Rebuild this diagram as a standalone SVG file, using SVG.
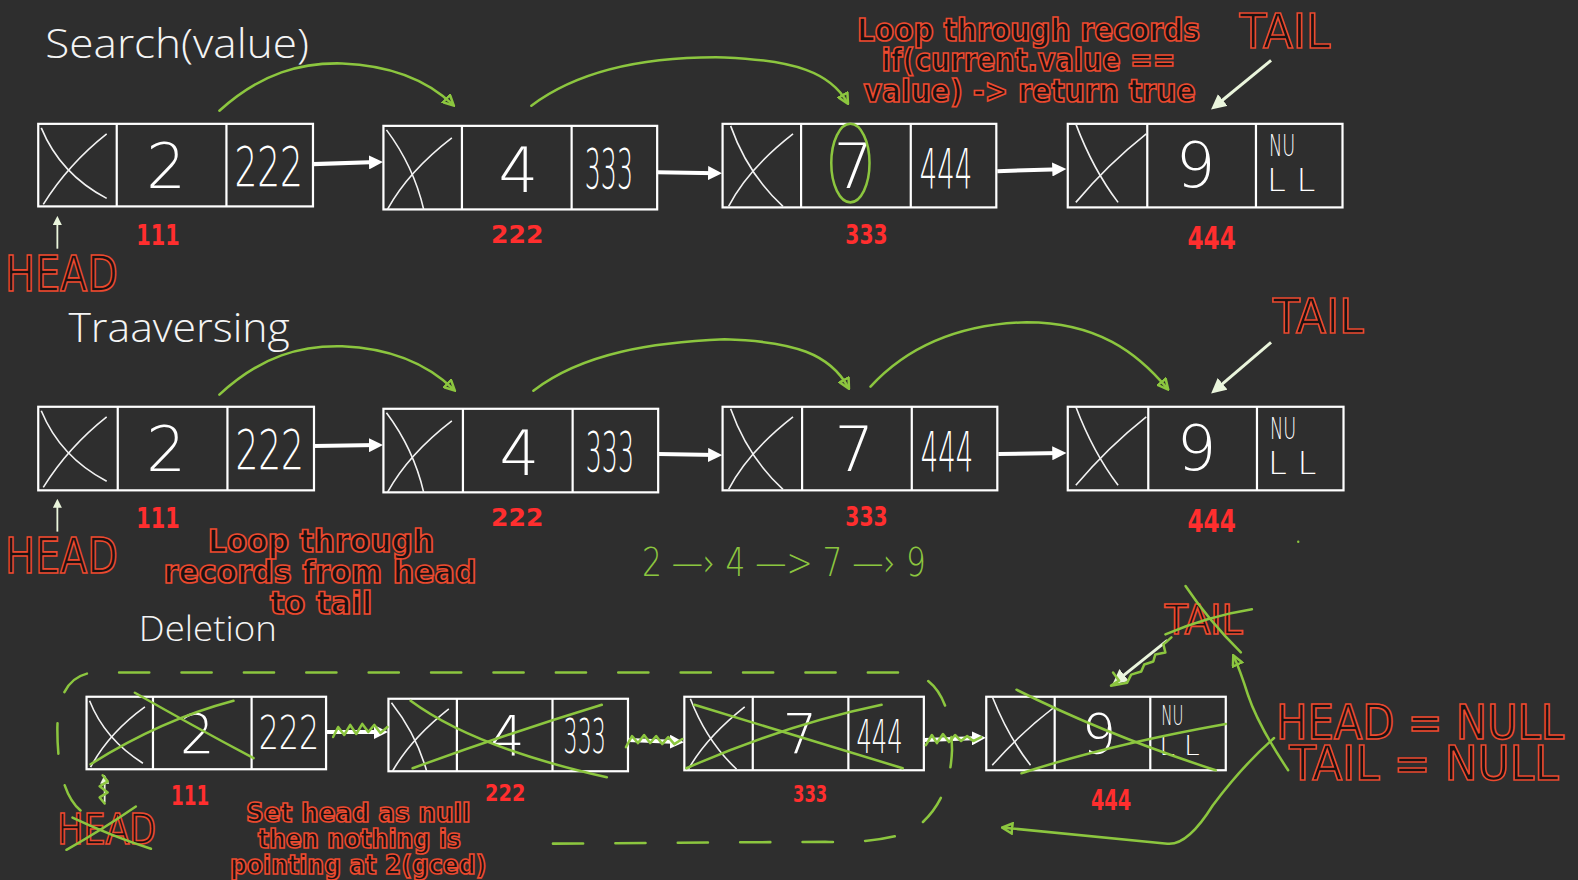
<svg xmlns="http://www.w3.org/2000/svg" width="1578" height="880" viewBox="0 0 1578 880">
<style>
.bg{fill:#2e2e2e}
.box{fill:none;stroke:#ffffff;stroke-width:2.2}
.xc{fill:none;stroke:#f2f2f2;stroke-width:1.6}
.val{font-family:"DejaVu Sans","Liberation Sans",sans-serif;font-weight:200;fill:#ffffff;text-anchor:middle}
.title{font-family:"Open Sans","Lato","DejaVu Sans",sans-serif;font-weight:300;fill:#f4f4f4}
.red{font-family:"DejaVu Sans Condensed","Liberation Sans Narrow","Liberation Sans",sans-serif;font-weight:bold;fill:#1a1212;stroke:#ec4a2f;stroke-width:1.6;text-anchor:middle}
.addr{font-family:"DejaVu Sans Condensed","Liberation Sans",sans-serif;font-weight:bold;fill:#ff2e2e;text-anchor:middle}
.g{fill:none;stroke:#8cc63f;stroke-width:2.5;stroke-linecap:round;stroke-linejoin:round}
.gt{font-family:"DejaVu Sans","Liberation Sans",sans-serif;font-weight:200;fill:#8cc63f}
.wa{fill:none;stroke:#ffffff;stroke-width:4}
.pt{fill:none;stroke:#eaf5dc;stroke-width:3}
</style>
<defs>
<marker id="ga" viewBox="0 0 10 10" refX="8" refY="5" markerWidth="5" markerHeight="5" orient="auto" markerUnits="strokeWidth">
<path d="M1,1 L9,5 L1,9 z" fill="none" stroke="#8cc63f" stroke-width="2"/>
</marker>
<marker id="wh" viewBox="0 0 10 10" refX="6" refY="5" markerWidth="3.5" markerHeight="3.5" orient="auto" markerUnits="strokeWidth">
<path d="M0,0 L10,5 L0,10 z" fill="#ffffff"/>
</marker>
<marker id="ph" viewBox="0 0 10 10" refX="6" refY="5" markerWidth="5" markerHeight="5" orient="auto" markerUnits="strokeWidth">
<path d="M0,0 L10,5 L0,10 z" fill="#eaf5dc"/>
</marker>
</defs>
<rect class="bg" x="0" y="0" width="1578" height="880"/>
<g transform="scale(1.006378,1.006865)">

<!-- titles -->
<g id="titles">
<text class="title" x="45" y="58" font-size="40" textLength="262" lengthAdjust="spacingAndGlyphs">Search(value)</text>
<text class="title" x="68" y="340" font-size="40" textLength="220" lengthAdjust="spacingAndGlyphs">Traaversing</text>
<text class="title" x="138" y="637" font-size="34" textLength="137" lengthAdjust="spacingAndGlyphs">Deletion</text>
</g>

<!-- ROW 1 nodes -->
<g id="s-node-2" transform="translate(38,123)">
<rect class="box" x="0" y="0" width="273" height="82"/>
<line class="box" x1="78" y1="0" x2="78" y2="82"/><line class="box" x1="187" y1="0" x2="187" y2="82"/>
<path class="xc" d="M3,4 Q22,50 68,74"/><path class="xc" d="M68,10 Q30,40 5,80"/>
<text class="val" x="127" y="64" font-size="62">2</text>
<text class="val" x="229" y="62" font-size="54" textLength="68" lengthAdjust="spacingAndGlyphs">222</text>
</g>
<g id="s-node-4" transform="translate(381,125)">
<rect class="box" x="0" y="0" width="272" height="83"/>
<line class="box" x1="78" y1="0" x2="78" y2="83"/><line class="box" x1="187" y1="0" x2="187" y2="83"/>
<path class="xc" d="M3,4 Q30,40 40,83"/><path class="xc" d="M68,12 Q25,45 4,83"/>
<text class="val" x="134" y="66" font-size="62">4</text>
<text class="val" x="224" y="62" font-size="54" textLength="48" lengthAdjust="spacingAndGlyphs">333</text>
</g>
<g id="s-node-7" transform="translate(718,123)">
<rect class="box" x="0" y="0" width="272" height="83"/>
<line class="box" x1="78" y1="0" x2="78" y2="83"/><line class="box" x1="187" y1="0" x2="187" y2="83"/>
<path class="xc" d="M8,2 Q25,50 60,82"/><path class="xc" d="M70,10 Q25,45 6,82"/>
<text class="val" x="130" y="64" font-size="62">7</text>
<text class="val" x="222" y="64" font-size="54" textLength="52" lengthAdjust="spacingAndGlyphs">444</text>
</g>
<g id="s-node-9" transform="translate(1061,123)">
<rect class="box" x="0" y="0" width="273" height="83"/>
<line class="box" x1="79" y1="0" x2="79" y2="83"/><line class="box" x1="187" y1="0" x2="187" y2="83"/>
<path class="xc" d="M8,0 Q25,45 50,78"/><path class="xc" d="M78,10 Q40,40 8,78"/>
<text class="val" x="127" y="63" font-size="62">9</text>
<text class="val" x="213" y="32" font-size="30" textLength="26" lengthAdjust="spacingAndGlyphs">NU</text>
<text class="val" x="222" y="67" font-size="32" textLength="48" lengthAdjust="spacingAndGlyphs">L L</text>
</g>

<!-- ROW 2 nodes -->
<g id="t-node-2" transform="translate(38,404)">
<rect class="box" x="0" y="0" width="274" height="83"/>
<line class="box" x1="79" y1="0" x2="79" y2="83"/><line class="box" x1="188" y1="0" x2="188" y2="83"/>
<path class="xc" d="M3,4 Q22,50 68,74"/><path class="xc" d="M68,10 Q30,40 5,80"/>
<text class="val" x="127" y="64" font-size="62">2</text>
<text class="val" x="230" y="62" font-size="54" textLength="68" lengthAdjust="spacingAndGlyphs">222</text>
</g>
<g id="t-node-4" transform="translate(381,406)">
<rect class="box" x="0" y="0" width="273" height="83"/>
<line class="box" x1="79" y1="0" x2="79" y2="83"/><line class="box" x1="188" y1="0" x2="188" y2="83"/>
<path class="xc" d="M3,4 Q30,40 40,83"/><path class="xc" d="M68,12 Q25,45 4,83"/>
<text class="val" x="135" y="66" font-size="62">4</text>
<text class="val" x="225" y="62" font-size="54" textLength="48" lengthAdjust="spacingAndGlyphs">333</text>
</g>
<g id="t-node-7" transform="translate(718,404)">
<rect class="box" x="0" y="0" width="273" height="83"/>
<line class="box" x1="79" y1="0" x2="79" y2="83"/><line class="box" x1="188" y1="0" x2="188" y2="83"/>
<path class="xc" d="M8,2 Q25,50 60,82"/><path class="xc" d="M70,10 Q25,45 6,82"/>
<text class="val" x="131" y="64" font-size="62">7</text>
<text class="val" x="223" y="64" font-size="54" textLength="52" lengthAdjust="spacingAndGlyphs">444</text>
</g>
<g id="t-node-9" transform="translate(1061,404)">
<rect class="box" x="0" y="0" width="274" height="83"/>
<line class="box" x1="80" y1="0" x2="80" y2="83"/><line class="box" x1="188" y1="0" x2="188" y2="83"/>
<path class="xc" d="M8,0 Q25,45 50,78"/><path class="xc" d="M78,10 Q40,40 8,78"/>
<text class="val" x="128" y="63" font-size="62">9</text>
<text class="val" x="214" y="32" font-size="30" textLength="26" lengthAdjust="spacingAndGlyphs">NU</text>
<text class="val" x="223" y="67" font-size="32" textLength="48" lengthAdjust="spacingAndGlyphs">L L</text>
</g>

<!-- ROW 3 nodes -->
<g id="d-node-2" transform="translate(86,692)">
<rect class="box" x="0" y="0" width="238" height="72"/>
<line class="box" x1="66" y1="0" x2="66" y2="72"/><line class="box" x1="164" y1="0" x2="164" y2="72"/>
<path class="xc" d="M3,4 Q18,42 56,66"/><path class="xc" d="M58,10 Q22,36 4,70"/>
<text class="val" x="110" y="56" font-size="54">2</text>
<text class="val" x="201" y="52" font-size="46" textLength="60" lengthAdjust="spacingAndGlyphs">222</text>
</g>
<g id="d-node-4" transform="translate(386,694)">
<rect class="box" x="0" y="0" width="238" height="72"/>
<line class="box" x1="68" y1="0" x2="68" y2="72"/><line class="box" x1="163" y1="0" x2="163" y2="72"/>
<path class="xc" d="M3,4 Q28,36 38,72"/><path class="xc" d="M60,10 Q22,40 4,72"/>
<text class="val" x="118" y="56" font-size="54">4</text>
<text class="val" x="195" y="54" font-size="48" textLength="42" lengthAdjust="spacingAndGlyphs">333</text>
</g>
<g id="d-node-7" transform="translate(680,692)">
<rect class="box" x="0" y="0" width="238" height="73"/>
<line class="box" x1="68" y1="0" x2="68" y2="73"/><line class="box" x1="163" y1="0" x2="163" y2="73"/>
<path class="xc" d="M6,2 Q22,44 52,72"/><path class="xc" d="M60,10 Q22,40 4,72"/>
<text class="val" x="115" y="56" font-size="54">7</text>
<text class="val" x="194" y="56" font-size="46" textLength="46" lengthAdjust="spacingAndGlyphs">444</text>
</g>
<g id="d-node-9" transform="translate(980,692)">
<rect class="box" x="0" y="0" width="238" height="73"/>
<line class="box" x1="68" y1="0" x2="68" y2="73"/><line class="box" x1="163" y1="0" x2="163" y2="73"/>
<path class="xc" d="M6,0 Q22,40 44,68"/><path class="xc" d="M68,10 Q35,35 6,68"/>
<text class="val" x="112" y="56" font-size="54">9</text>
<text class="val" x="185" y="28" font-size="26" textLength="22" lengthAdjust="spacingAndGlyphs">NU</text>
<text class="val" x="192" y="58" font-size="26" textLength="40" lengthAdjust="spacingAndGlyphs">L L</text>
</g>

<!-- address labels -->
<g id="addresses">
<text class="addr" x="157" y="243" font-size="28" textLength="43" lengthAdjust="spacingAndGlyphs">111</text>
<text class="addr" x="514" y="241" font-size="24" textLength="52" lengthAdjust="spacingAndGlyphs">222</text>
<text class="addr" x="861" y="242" font-size="26" textLength="42" lengthAdjust="spacingAndGlyphs">333</text>
<text class="addr" x="1204" y="247" font-size="32" textLength="48" lengthAdjust="spacingAndGlyphs">444</text>
<text class="addr" x="157" y="524" font-size="28" textLength="43" lengthAdjust="spacingAndGlyphs">111</text>
<text class="addr" x="514" y="522" font-size="24" textLength="52" lengthAdjust="spacingAndGlyphs">222</text>
<text class="addr" x="861" y="522" font-size="26" textLength="42" lengthAdjust="spacingAndGlyphs">333</text>
<text class="addr" x="1204" y="528" font-size="32" textLength="48" lengthAdjust="spacingAndGlyphs">444</text>
<text class="addr" x="189" y="800" font-size="26" textLength="38" lengthAdjust="spacingAndGlyphs">111</text>
<text class="addr" x="502" y="796" font-size="22" textLength="40" lengthAdjust="spacingAndGlyphs">222</text>
<text class="addr" x="805" y="797" font-size="22" textLength="34" lengthAdjust="spacingAndGlyphs">333</text>
<text class="addr" x="1104" y="804" font-size="28" textLength="40" lengthAdjust="spacingAndGlyphs">444</text>
</g>

<!-- red labels -->
<g id="labels">
<text class="red" x="1022" y="41" font-size="31" textLength="341" lengthAdjust="spacingAndGlyphs">Loop through records</text>
<text class="red" x="1022" y="71" font-size="31" textLength="292" lengthAdjust="spacingAndGlyphs">if(current.value ==</text>
<text class="red" x="1023" y="101" font-size="31" textLength="330" lengthAdjust="spacingAndGlyphs">value) -&gt; return true</text>
<text class="red" x="1277" y="48" font-size="48" textLength="90" lengthAdjust="spacingAndGlyphs" style="font-weight:normal">TAIL</text>
<text class="red" x="61" y="289" font-size="50" textLength="112" lengthAdjust="spacingAndGlyphs" style="font-weight:normal">HEAD</text>
<text class="red" x="1310" y="331" font-size="48" textLength="90" lengthAdjust="spacingAndGlyphs" style="font-weight:normal">TAIL</text>
<text class="red" x="61" y="569" font-size="50" textLength="112" lengthAdjust="spacingAndGlyphs" style="font-weight:normal">HEAD</text>
<text class="red" x="319" y="548" font-size="31" textLength="225" lengthAdjust="spacingAndGlyphs">Loop through</text>
<text class="red" x="318" y="579" font-size="31" textLength="311" lengthAdjust="spacingAndGlyphs">records from head</text>
<text class="red" x="319" y="610" font-size="31" textLength="102" lengthAdjust="spacingAndGlyphs">to tail</text>
<text class="red" x="356" y="816" font-size="26" textLength="223" lengthAdjust="spacingAndGlyphs">Set head as null</text>
<text class="red" x="357" y="842" font-size="26" textLength="202" lengthAdjust="spacingAndGlyphs">then nothing is</text>
<text class="red" x="356" y="868" font-size="26" textLength="255" lengthAdjust="spacingAndGlyphs">pointing at 2(gced)</text>
<text class="red" x="106" y="838" font-size="42" textLength="98" lengthAdjust="spacingAndGlyphs" style="font-weight:normal">HEAD</text>
<text class="red" x="1196" y="630" font-size="40" textLength="77" lengthAdjust="spacingAndGlyphs" style="font-weight:normal">TAIL</text>
<text class="red" x="1411" y="734" font-size="48" textLength="286" lengthAdjust="spacingAndGlyphs" style="font-weight:normal">HEAD  =  NULL</text>
<text class="red" x="1415" y="775" font-size="48" textLength="268" lengthAdjust="spacingAndGlyphs" style="font-weight:normal">TAIL  =  NULL</text>
<text class="gt" x="638" y="572" font-size="38" textLength="282" lengthAdjust="spacingAndGlyphs">2 —› 4 —&gt; 7 —› 9</text>
<circle cx="1290" cy="538" r="1.2" fill="#8cc63f"/>
</g>

<!-- connectors -->
<g id="connectors">
<line class="wa" x1="311" y1="163" x2="375" y2="161" marker-end="url(#wh)"/>
<line class="wa" x1="653" y1="171" x2="712" y2="172" marker-end="url(#wh)"/>
<line class="wa" x1="991" y1="170" x2="1054" y2="168" marker-end="url(#wh)"/>
<line class="wa" x1="312" y1="443" x2="375" y2="442" marker-end="url(#wh)"/>
<line class="wa" x1="654" y1="451" x2="712" y2="452" marker-end="url(#wh)"/>
<line class="wa" x1="992" y1="451" x2="1054" y2="450" marker-end="url(#wh)"/>
<line class="wa" x1="324" y1="727" x2="380" y2="727" stroke-width="3" marker-end="url(#wh)"/>
<line class="wa" x1="624" y1="735" x2="674" y2="737" stroke-width="3" marker-end="url(#wh)"/>
<line class="wa" x1="918" y1="735" x2="974" y2="733" stroke-width="3" marker-end="url(#wh)"/>
<polyline class="g" points="331,732 336,722 342,730 348,720 354,729 360,719 366,727 372,720 378,728 385,722"/>
<polyline class="g" points="622,742 628,731 634,738 640,730 646,738 652,731 658,739 664,732 670,739 678,734"/>
<polyline class="g" points="920,740 926,730 931,738 937,729 943,737 949,730 955,736 961,731 967,736 975,732"/>
<line x1="57" y1="247" x2="57" y2="218" stroke="#eaf5dc" stroke-width="1.8" marker-end="url(#ph)"/>
<line x1="57" y1="528" x2="57" y2="499" stroke="#eaf5dc" stroke-width="1.8" marker-end="url(#ph)"/>
<line x1="104" y1="797" x2="104" y2="773" stroke="#eaf5dc" stroke-width="1.8" marker-end="url(#ph)"/>
<polyline class="g" points="104,798 99,792 107,787 99,781 107,776 102,770"/>
<line class="pt" x1="1263" y1="60" x2="1208" y2="105" marker-end="url(#ph)"/>
<line class="pt" x1="1263" y1="340" x2="1208" y2="387" marker-end="url(#ph)"/>
<line class="pt" x1="1160" y1="636" x2="1110" y2="676" stroke-width="2.5" marker-end="url(#ph)"/>
<polyline class="g" points="1164,633 1156,640 1158,648 1148,650 1146,657 1137,660 1134,667 1124,670 1120,678 1104,681 1112,676 1106,668"/>
<path class="g" d="M218,110 C260,72 300,62 340,63 C390,65 425,80 450,104" marker-end="url(#ga)"/>
<path class="g" d="M528,105 C580,66 650,56 720,57 C790,60 825,72 842,102" marker-end="url(#ga)"/>
<path class="g" d="M218,392 C260,353 300,343 340,344 C390,346 425,362 451,387" marker-end="url(#ga)"/>
<path class="g" d="M530,388 C580,350 650,340 720,337 C790,339 825,352 843,385" marker-end="url(#ga)"/>
<path class="g" d="M865,384 C900,346 950,322 1020,320 C1090,320 1130,350 1160,386" marker-end="url(#ga)"/>
<ellipse class="g" cx="845" cy="162" rx="19" ry="39"/>
<path class="g" d="M90,759 Q160,715 232,696"/>
<path class="g" d="M134,688 Q190,720 252,753"/>
<path class="g" d="M410,763 Q500,730 598,700"/>
<path class="g" d="M408,696 Q470,742 603,772"/>
<path class="g" d="M690,700 Q790,730 897,763"/>
<path class="g" d="M682,763 Q780,720 876,700"/>
<path class="g" d="M1010,685 Q1100,730 1208,765"/>
<path class="g" d="M1015,768 Q1100,740 1218,719"/>
<path class="g" d="M66,844 Q100,825 135,801"/>
<path class="g" d="M72,812 Q110,830 150,843"/>
<path class="g" d="M1178,582 Q1200,615 1233,648"/>
<path class="g" d="M1158,630 Q1200,612 1244,605"/>
<path class="g" stroke-dasharray="30 32" d="M80,805 Q57,785 57,725 Q57,672 92,668 L905,668 Q945,678 946,745 Q944,800 905,826 Q870,838 820,836 L530,838"/>
<path class="g" d="M1280,765 Q1250,720 1240,690 Q1232,665 1226,652" marker-end="url(#ga)"/>
<path class="g" d="M1266,733 Q1235,760 1205,800 Q1180,840 1160,838 Q1080,830 997,822" marker-end="url(#ga)"/>
</g>
</g>
</svg>
